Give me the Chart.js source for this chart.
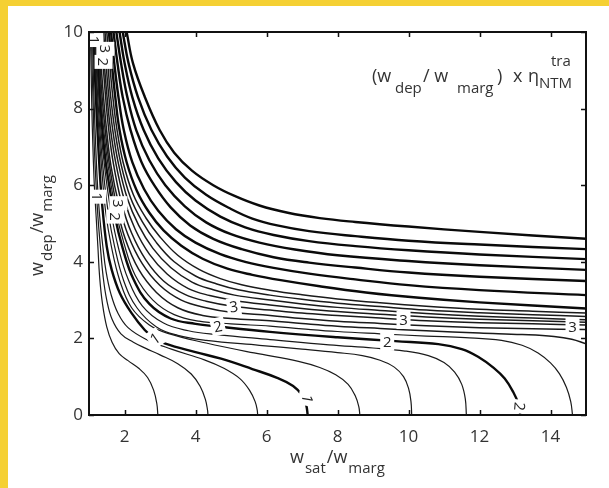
<!DOCTYPE html>
<html>
<head>
<meta charset="utf-8">
<script src="https://cdn.jsdelivr.net/npm/chart.js@4.4.1/dist/chart.umd.min.js"></script>
<style>
  html, body { margin: 0; padding: 0; background: #fff; }
</style>
</head>
<body>
<canvas id="contour" width="609" height="488"></canvas>
<script>
// axis ticks
const xTicks = [2, 4, 6, 8, 10, 12, 14];
const yTicks = [0, 2, 4, 6, 8, 10];

// contour lines, [w_sat/w_marg, w_dep/w_marg]
const c025 = [[1.04,10],[1.06,9],[1.08,8],[1.11,7],[1.15,6],[1.2,5.2],[1.25,4.4],[1.3,3.6],[1.38,2.9],[1.5,2.3],[1.65,1.9],[1.85,1.6],[2.1,1.42],[2.4,1.22],[2.65,0.98],[2.82,0.65],[2.91,0.3],[2.94,0]];
const c050 = [[1.07,10],[1.09,9],[1.12,8],[1.15,7],[1.2,6],[1.25,5.2],[1.32,4.4],[1.4,3.6],[1.5,3.0],[1.65,2.5],[1.9,2.12],[2.25,1.9],[2.6,1.74],[3.0,1.57],[3.5,1.34],[3.88,1.07],[4.13,0.75],[4.28,0.4],[4.34,0.12],[4.35,0]];
const c075 = [[1.1,10],[1.12,9],[1.15,8],[1.19,7],[1.24,6],[1.3,5.2],[1.39,4.4],[1.48,3.75],[1.62,3.15],[1.82,2.65],[2.1,2.28],[2.6,1.98],[3.32,1.72],[4.25,1.44],[4.8,1.22],[5.25,0.95],[5.52,0.65],[5.68,0.35],[5.74,0.12],[5.75,0]];
const c100 = [[1.13,10],[1.15,9.3],[1.19,8.4],[1.24,7.4],[1.3,6.4],[1.37,5.5],[1.5,4.4],[1.64,3.79],[1.87,3.18],[2.2,2.66],[2.57,2.22],[2.85,2.0],[3.13,1.87],[4.0,1.64],[4.72,1.47],[5.6,1.2],[6.3,0.97],[6.75,0.76],[7.0,0.52],[7.12,0.25],[7.16,0]];
const c125 = [[1.15,10],[1.18,9.3],[1.22,8.4],[1.28,7.4],[1.36,6.4],[1.47,5.3],[1.63,4.4],[1.87,3.5],[2.2,2.8],[2.7,2.35],[3.22,2.13],[4.3,1.88],[5.65,1.62],[6.9,1.4],[7.5,1.24],[7.95,1.05],[8.3,0.8],[8.5,0.5],[8.6,0.22],[8.63,0]];
const c150 = [[1.17,10],[1.2,9.3],[1.24,8.4],[1.31,7.4],[1.4,6.4],[1.54,5.3],[1.72,4.4],[1.98,3.5],[2.35,2.8],[2.9,2.3],[3.5,2.08],[4.3,1.95],[5.8,1.82],[7,1.72],[8.0,1.63],[8.7,1.55],[9.2,1.43],[9.6,1.25],[9.86,1.0],[10.0,0.7],[10.07,0.35],[10.09,0]];
const c175 = [[1.19,10],[1.22,9.3],[1.27,8.4],[1.34,7.4],[1.45,6.4],[1.62,5.3],[1.82,4.4],[2.1,3.55],[2.5,2.85],[3.1,2.4],[3.8,2.2],[4.6,2.1],[6.1,1.97],[7.76,1.83],[9.0,1.75],[9.9,1.67],[10.56,1.55],[11.0,1.37],[11.3,1.12],[11.5,0.8],[11.6,0.42],[11.63,0]];
const c200 = [[1.21,10],[1.25,9.3],[1.3,8.4],[1.38,7.4],[1.5,6.4],[1.73,5.18],[1.95,4.35],[2.25,3.55],[2.7,2.9],[3.3,2.52],[4.0,2.38],[4.63,2.31],[6.1,2.17],[8,2.03],[9.63,1.93],[10.84,1.85],[11.5,1.72],[11.96,1.52],[12.4,1.23],[12.71,0.95],[12.95,0.6],[13.1,0.28],[13.15,0]];
const c225 = [[1.24,10],[1.28,9.3],[1.33,8.4],[1.42,7.4],[1.54,6.5],[1.75,5.35],[1.98,4.5],[2.3,3.65],[2.8,3.0],[3.4,2.62],[4.1,2.45],[5,2.38],[6.1,2.32],[7,2.25],[8,2.18],[9.2,2.12],[10.5,2.06],[11.6,2.02],[12.62,1.95],[13.2,1.82],[13.65,1.62],[14.0,1.36],[14.25,1.08],[14.45,0.72],[14.57,0.35],[14.62,0]];
const c250 = [[1.26,10],[1.3,9.3],[1.36,8.4],[1.46,7.4],[1.58,6.5],[1.78,5.45],[2.02,4.6],[2.4,3.8],[2.9,3.2],[3.5,2.8],[4.2,2.6],[5.0,2.52],[6.1,2.46],[7,2.39],[8,2.32],[9.2,2.26],[10.5,2.2],[12,2.14],[13.2,2.1],[14.1,2.05],[14.6,1.98],[15,1.86]];
const c275 = [[1.29,10],[1.33,9.3],[1.4,8.4],[1.5,7.4],[1.62,6.5],[1.84,5.5],[2.1,4.7],[2.5,3.95],[3.0,3.38],[3.6,3.0],[4.3,2.8],[5.0,2.68],[6.1,2.6],[7,2.52],[8,2.45],[9.2,2.39],[10.5,2.33],[12,2.28],[13.5,2.25],[15,2.23]];
const c300 = [[1.33,10],[1.37,9.5],[1.45,8.5],[1.55,7.5],[1.68,6.6],[1.92,5.53],[2.2,4.75],[2.6,4.05],[3.1,3.5],[3.7,3.15],[4.3,2.97],[5.05,2.84],[6.1,2.74],[7,2.66],[8,2.6],[9.2,2.53],[10.5,2.46],[12,2.41],[13.5,2.38],[15,2.35]];
const c325 = [[1.37,10],[1.42,9.3],[1.5,8.4],[1.6,7.5],[1.75,6.6],[2.0,5.6],[2.3,4.85],[2.7,4.2],[3.2,3.68],[3.8,3.3],[4.4,3.12],[5.1,2.99],[6.1,2.87],[7,2.78],[8,2.7],[9.2,2.63],[10.5,2.56],[12,2.5],[13.5,2.46],[15,2.42]];
const c350 = [[1.41,10],[1.47,9.3],[1.55,8.4],[1.66,7.5],[1.82,6.6],[2.08,5.65],[2.4,4.95],[2.8,4.35],[3.3,3.85],[3.9,3.47],[4.5,3.27],[5.1,3.13],[6.1,3.0],[7,2.9],[8,2.81],[9.2,2.73],[10.5,2.65],[12,2.58],[13.5,2.53],[15,2.49]];
const c375 = [[1.45,10],[1.52,9.3],[1.6,8.4],[1.72,7.5],[1.89,6.6],[2.16,5.7],[2.5,5.05],[2.9,4.5],[3.4,4.0],[4.0,3.63],[4.6,3.42],[5.2,3.27],[6.1,3.13],[7,3.02],[8,2.92],[9.2,2.83],[10.5,2.74],[12,2.67],[13.5,2.62],[15,2.57]];
const c400 = [[1.5,10],[1.57,9.3],[1.66,8.4],[1.78,7.5],[1.96,6.6],[2.25,5.75],[2.6,5.15],[3.0,4.65],[3.5,4.17],[4.1,3.8],[4.7,3.56],[5.3,3.4],[6.1,3.26],[7,3.14],[8,3.03],[9.2,2.93],[10.5,2.84],[12,2.76],[13.5,2.71],[15,2.66]];
const upper7 = [[1.56,10],[1.64,9.2],[1.74,8.3],[1.86,7.44],[2.06,6.6],[2.35,5.85],[2.7,5.28],[3.1,4.82],[3.6,4.42],[4.2,4.08],[4.9,3.82],[5.6,3.66],[6.4,3.52],[7.5,3.36],[8.8,3.2],[10.3,3.06],[12,2.94],[15,2.78]];
const upper6 = [[1.62,10],[1.71,9.2],[1.83,8.3],[1.98,7.44],[2.22,6.6],[2.55,5.9],[2.95,5.33],[3.45,4.85],[4.0,4.5],[4.7,4.2],[5.4,4.0],[6.2,3.84],[7.2,3.69],[8.5,3.54],[10,3.39],[12,3.26],[15,3.13]];
const upper5 = [[1.69,10],[1.8,9.2],[1.95,8.3],[2.17,7.44],[2.48,6.6],[2.85,5.98],[3.3,5.42],[3.85,4.95],[4.5,4.6],[5.3,4.33],[6.2,4.12],[7.2,3.98],[8.5,3.85],[10,3.72],[12,3.61],[15,3.5]];
const upper4 = [[1.77,10],[1.9,9.2],[2.08,8.3],[2.33,7.44],[2.7,6.65],[3.15,6.0],[3.7,5.45],[4.3,5.03],[5.0,4.72],[5.8,4.5],[6.8,4.32],[8,4.17],[10,4.02],[12,3.91],[15,3.79]];
const upper3 = [[1.86,10],[2.0,9.2],[2.22,8.3],[2.54,7.44],[2.95,6.7],[3.45,6.08],[4.0,5.6],[4.7,5.18],[5.4,4.9],[6.2,4.7],[7.2,4.54],[8.5,4.41],[10,4.3],[12,4.19],[15,4.07]];
const upper2 = [[1.95,10],[2.11,9.2],[2.38,8.3],[2.76,7.44],[3.2,6.75],[3.7,6.2],[4.3,5.75],[5.0,5.38],[5.6,5.13],[6.3,4.95],[7.2,4.8],[8.5,4.67],[10,4.55],[12,4.45],[15,4.33]];
const upper1 = [[2.06,10],[2.24,9.18],[2.57,8.31],[2.99,7.44],[3.4,6.85],[3.9,6.38],[4.5,6.0],[5.1,5.72],[5.8,5.47],[6.6,5.28],[7.5,5.14],[8.5,5.04],[10,4.92],[12,4.78],[15,4.6]];

// inline contour labels
const labelText = ['1', '3', '2', '1', '3', '2', '1', '2', '3', '2', '3', '3', '1', '2'];
const labelX = [1.15, 1.46, 1.41, 1.23, 1.83, 1.74, 2.86, 4.63, 5.08, 9.4, 9.86, 14.62, 7.15, 13.13];
const labelY = [9.79, 9.56, 9.22, 5.7, 5.53, 5.18, 2.0, 2.31, 2.83, 1.91, 2.48, 2.31, 0.42, 0.22];
const labelRot = [90, 90, 90, 90, 90, 90, -35, -12, -8, 0, 0, 0, 100, 95];

const thin = [c025, c050, c075, c125, c150, c175, c225];
const dense = [c250, c275, c300, c325, c350, c375, c400];
const thick = [c100, c200, upper7, upper6, upper5, upper4, upper3, upper2, upper1];

const toPts = a => a.map(p => ({ x: p[0], y: p[1] }));
const datasets = [];
thin.forEach(a => datasets.push({ data: toPts(a), borderColor: '#1a1a1a', borderWidth: 1.2 }));
dense.forEach(a => datasets.push({ data: toPts(a), borderColor: '#1a1a1a', borderWidth: 1.5 }));
thick.forEach(a => datasets.push({ data: toPts(a), borderColor: '#0a0a0a', borderWidth: 2.4 }));
datasets.forEach(d => { d.showLine = true; d.pointRadius = 0; d.tension = 0.4; d.fill = false; });

function drawParts(ctx, parts, x0, y0) {
  let x = x0;
  parts.forEach(([t, size, dy, gap]) => {
    ctx.font = size + 'px "Open Sans"';
    ctx.fillText(t, x, y0 + dy);
    x += ctx.measureText(t).width + (gap || 0);
  });
}

const decor = {
  id: 'decor',
  beforeDraw(chart) {
    const ctx = chart.ctx;
    ctx.save();
    ctx.fillStyle = '#fff';
    ctx.fillRect(0, 0, chart.width, chart.height);
    ctx.fillStyle = '#f5d033';
    ctx.fillRect(0, 0, chart.width, 6);
    ctx.fillRect(0, 0, 8, chart.height);
    ctx.restore();
  },
  afterDatasetsDraw(chart) {
    const { ctx, chartArea: a, scales: { x, y } } = chart;
    ctx.save();
    // contour labels with white boxes
    ctx.textAlign = 'center';
    ctx.textBaseline = 'middle';
    ctx.font = '15px "Open Sans"';
    labelText.forEach((t, i) => {
      const px = x.getPixelForValue(labelX[i]);
      const py = y.getPixelForValue(labelY[i]);
      ctx.save();
      ctx.translate(px, py);
      ctx.rotate(labelRot[i] * Math.PI / 180);
      ctx.fillStyle = '#fff';
      ctx.fillRect(-7, -9, 14, 18);
      ctx.fillStyle = '#222';
      ctx.fillText(t, 0, 1);
      ctx.restore();
    });
    ctx.fillStyle = '#fff';
    ctx.fillRect(a.left, a.bottom + 1, a.right - a.left, 4);
    // frame
    ctx.strokeStyle = '#111';
    ctx.lineWidth = 2;
    ctx.strokeRect(a.left, a.top, a.right - a.left, a.bottom - a.top);
    // inward ticks on all four sides
    ctx.lineWidth = 1.5;
    ctx.beginPath();
    xTicks.forEach(v => {
      const p = Math.round(x.getPixelForValue(v)) + 0.5;
      ctx.moveTo(p, a.bottom); ctx.lineTo(p, a.bottom - 5);
      ctx.moveTo(p, a.top); ctx.lineTo(p, a.top + 5);
    });
    yTicks.forEach(v => {
      const p = Math.round(y.getPixelForValue(v)) + 0.5;
      ctx.moveTo(a.left, p); ctx.lineTo(a.left + 5, p);
      ctx.moveTo(a.right, p); ctx.lineTo(a.right - 5, p);
    });
    ctx.stroke();
    ctx.restore();
  },
  afterDraw(chart) {
    const ctx = chart.ctx;
    ctx.save();
    ctx.fillStyle = '#333';
    ctx.textAlign = 'left';
    ctx.textBaseline = 'alphabetic';
    // x axis title
    drawParts(ctx, [['w', 18, 0, 1], ['sat', 15, 10, 1], ['/w', 18, 0, 1], ['marg', 15, 10]], 290, 463);
    // y axis title
    ctx.translate(43, 276);
    ctx.rotate(-Math.PI / 2);
    drawParts(ctx, [['w', 18, 0, 1], ['dep', 15, 9, 1], ['/w', 18, 0, 1], ['marg', 15, 9]], 0, 0);
    ctx.restore();
    // formula in the top right corner
    ctx.save();
    ctx.fillStyle = '#333';
    ctx.textAlign = 'left';
    ctx.textBaseline = 'alphabetic';
    ctx.font = '18px "Open Sans"';
    ctx.fillText('(w', 372, 82);
    ctx.fillText('/ w', 423, 82);
    ctx.fillText(')', 497, 82);
    ctx.fillText('x', 513, 82);
    ctx.fillText('\u03b7', 528, 82);
    ctx.font = '15px "Open Sans"';
    ctx.fillText('dep', 395, 93);
    ctx.fillText('marg', 457, 93);
    ctx.fillText('tra', 551, 66);
    ctx.fillText('NTM', 539, 88);
    ctx.restore();
  }
};

new Chart(document.getElementById('contour').getContext('2d'), {
  type: 'scatter',
  data: { datasets: datasets },
  options: {
    responsive: false,
    devicePixelRatio: 1,
    animation: false,
    layout: { padding: { top: 32, right: 23, left: 0, bottom: 0 } },
    plugins: { legend: { display: false }, tooltip: { enabled: false } },
    scales: {
      x: {
        type: 'linear', min: 1, max: 15,
        afterBuildTicks: s => { s.ticks = xTicks.map(v => ({ value: v })); },
        afterFit: s => { s.height = 73; },
        grid: { display: false, drawTicks: false },
        border: { display: false },
        ticks: { color: '#333', padding: 12, font: { family: 'Open Sans', size: 17 }, maxRotation: 0 }
      },
      y: {
        type: 'linear', min: 0, max: 10,
        afterBuildTicks: s => { s.ticks = yTicks.map(v => ({ value: v })); },
        afterFit: s => { s.width = 89; },
        grid: { display: false, drawTicks: false },
        border: { display: false },
        ticks: { color: '#333', padding: 6, font: { family: 'Open Sans', size: 17 } }
      }
    }
  },
  plugins: [decor]
});
</script>
</body>
</html>
